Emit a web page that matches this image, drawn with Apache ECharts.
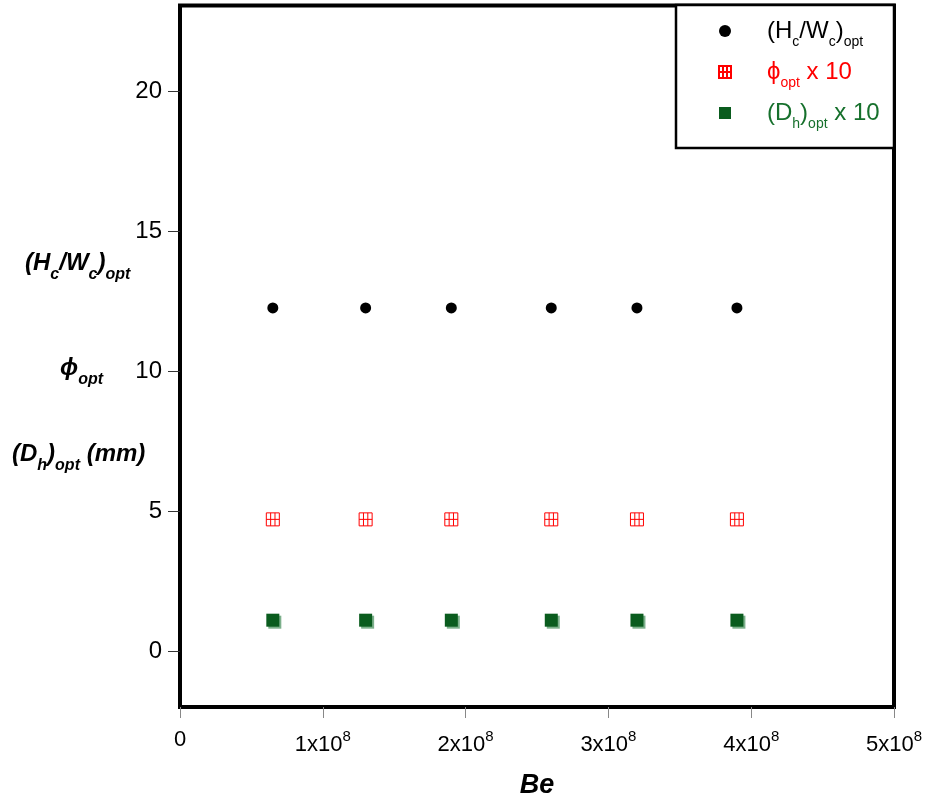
<!DOCTYPE html>
<html>
<head>
<meta charset="utf-8">
<script src="https://cdn.jsdelivr.net/npm/echarts@6/dist/echarts.min.js"></script>
<style>
  html, body { margin: 0; padding: 0; background: #fff; }
  #chart { width: 926px; height: 798px; }
</style>
</head>
<body>
<div id="chart"></div>
<script>
// 数据
const beValues = [0.65e8, 1.3e8, 1.9e8, 2.6e8, 3.2e8, 3.9e8]
const hwOpt = [12.25, 12.25, 12.25, 12.25, 12.25, 12.25]
const phiOpt10 = [4.7, 4.7, 4.7, 4.7, 4.7, 4.7]
const dhOpt10 = [1.1, 1.1, 1.1, 1.1, 1.1, 1.1]
const xTicks = [0, 1e8, 2e8, 3e8, 4e8, 5e8]
const yTicks = [0, 5, 10, 15, 20]

const FONT = '"Liberation Sans", Arial, sans-serif'
const RED = '#ff0000'
const GREEN = '#0a5c1e'
const GREEN_TEXT = '#16702c'

const pairs = ys => beValues.map((x, i) => [x, ys[i]])

const legendNames = {
  hw: '(H{sub|c}/W{sub|c}){sub|opt}',
  phi: 'ϕ{sub|opt} x 10',
  dh: '(D{sub|h}){sub|opt} x 10'
}

// 左侧的 y 轴说明文字
function sideLabel(text, left, top) {
  return {
    type: 'text',
    left: left,
    top: top,
    style: {
      text: text,
      fontFamily: FONT, fontSize: 24, fontWeight: 'bold', fontStyle: 'italic', fill: '#000',
      rich: {
        sub: { fontFamily: FONT, fontSize: 16, fontWeight: 'bold', fontStyle: 'italic', padding: [24, 0, 0, 0] }
      }
    }
  }
}

const chart = echarts.init(document.getElementById('chart'))

chart.setOption({
  animation: false,
  backgroundColor: '#fff',
  grid: {
    left: 180,
    top: 5.5,
    width: 714,
    height: 701.5,
    outerBoundsMode: 'none',
    containLabel: false,
    show: true,
    borderColor: '#000',
    borderWidth: 4,
    backgroundColor: 'transparent'
  },
  xAxis: {
    type: 'value',
    min: 0,
    max: 5e8,
    name: 'Be',
    nameLocation: 'middle',
    nameGap: 65,
    nameTextStyle: { fontFamily: FONT, fontSize: 27, fontWeight: 'bold', fontStyle: 'italic', color: '#000' },
    axisLine: { show: false, onZero: false },
    splitLine: { show: false },
    axisTick: { show: true, length: 11, customValues: xTicks, lineStyle: { color: '#888', width: 1 } },
    axisLabel: {
      customValues: xTicks,
      margin: 22,
      fontFamily: FONT,
      fontSize: 22,
      color: '#000',
      formatter: v => v === 0 ? '0' : (v / 1e8) + 'x10{sup|8}',
      rich: {
        sup: { fontFamily: FONT, fontSize: 15, color: '#000', padding: [0, 0, 17, 0] }
      }
    }
  },
  yAxis: {
    type: 'value',
    min: -2,
    max: 23.05,
    axisLine: { show: false, onZero: false },
    splitLine: { show: false },
    axisTick: { show: true, length: 12, customValues: yTicks, lineStyle: { color: '#333', width: 1 } },
    axisLabel: {
      customValues: yTicks,
      margin: 18,
      fontFamily: FONT,
      fontSize: 24,
      color: '#000'
    }
  },
  legend: {
    orient: 'vertical',
    left: 718,
    top: 19,
    padding: 0,
    itemWidth: 74,
    itemHeight: 12,
    itemGap: 11,
    selectedMode: false,
    formatter: name => legendNames[name],
    textStyle: {
      fontFamily: FONT,
      fontSize: 24,
      rich: {
        sub: { fontFamily: FONT, fontSize: 14, padding: [22, 0, 0, 0] }
      }
    },
    data: [
      { name: 'hw', textStyle: { color: '#000' } },
      { name: 'phi', textStyle: { color: RED } },
      { name: 'dh', textStyle: { color: GREEN_TEXT } }
    ]
  },
  graphic: [
    {
      type: 'rect',
      z: 3,
      shape: { x: 676, y: 5, width: 218, height: 143 },
      style: { fill: '#fff', stroke: '#000', lineWidth: 2.5 }
    },
    sideLabel('(H{sub|c}/W{sub|c}){sub|opt}', 25, 251),
    sideLabel('ϕ{sub|opt}', 60, 356),
    sideLabel('(D{sub|h}){sub|opt} (mm)', 12, 442)
  ],
  series: [
    {
      name: 'hw',
      type: 'scatter',
      symbol: 'circle',
      symbolSize: 11,
      itemStyle: { color: '#000', opacity: 1 },
      data: pairs(hwOpt)
    },
    {
      name: 'phi',
      type: 'scatter',
      symbol: 'path://M0,0H12V12H0Z M0,6H12 M4,0V12 M8,0V12',
      symbolSize: 13,
      itemStyle: { color: 'transparent', borderColor: RED, borderWidth: 1, opacity: 1 },
      data: pairs(phiOpt10)
    },
    {
      name: 'dh',
      type: 'scatter',
      symbol: 'path://M0,0H12V12H0Z',
      symbolSize: 13,
      itemStyle: {
        color: GREEN,
        opacity: 1,
        shadowColor: 'rgba(80,150,100,0.75)',
        shadowBlur: 0,
        shadowOffsetX: 2,
        shadowOffsetY: 2
      },
      data: pairs(dhOpt10)
    }
  ]
})
</script>
</body>
</html>
